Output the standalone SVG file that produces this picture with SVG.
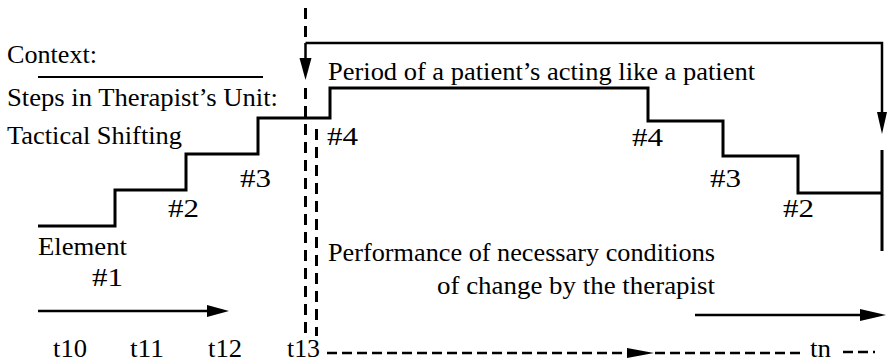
<svg xmlns="http://www.w3.org/2000/svg" width="887" height="361" viewBox="0 0 887 361">
<style>
text{font-size:25px;fill:#000}
.s{fill:none;stroke:#000;stroke-width:3;stroke-linejoin:miter;stroke-linecap:butt}
.t{fill:none;stroke:#000;stroke-width:2.5}
.d{fill:none;stroke:#000;stroke-width:3;stroke-dasharray:11 7}
.dh{fill:none;stroke:#000;stroke-width:2.5;stroke-dasharray:10 5}
.h{fill:#000}
</style>
<rect width="887" height="361" fill="#fff"/>
<g id="labels" font-family="Liberation Serif, DejaVu Serif, serif">
<text x="7" y="63" textLength="90" lengthAdjust="spacingAndGlyphs">Context:</text>
<line x1="38" y1="77" x2="263" y2="77" stroke="#000" stroke-width="2"/>
<text x="7" y="106" textLength="271" lengthAdjust="spacingAndGlyphs">Steps in Therapist’s Unit:</text>
<text x="7" y="144" textLength="175" lengthAdjust="spacingAndGlyphs">Tactical Shifting</text>
<text x="328" y="80" textLength="427" lengthAdjust="spacingAndGlyphs">Period of a patient’s acting like a patient</text>
<text x="38" y="255" textLength="89" lengthAdjust="spacingAndGlyphs">Element</text>
<text x="92" y="286" textLength="31" lengthAdjust="spacingAndGlyphs">#1</text>
<text x="168" y="217" textLength="31" lengthAdjust="spacingAndGlyphs">#2</text>
<text x="240" y="187" textLength="31" lengthAdjust="spacingAndGlyphs">#3</text>
<text x="327" y="145" textLength="31" lengthAdjust="spacingAndGlyphs">#4</text>
<text x="632" y="146" textLength="31" lengthAdjust="spacingAndGlyphs">#4</text>
<text x="710" y="187" textLength="31" lengthAdjust="spacingAndGlyphs">#3</text>
<text x="783" y="217" textLength="31" lengthAdjust="spacingAndGlyphs">#2</text>
<text x="328" y="261" textLength="387" lengthAdjust="spacingAndGlyphs">Performance of necessary conditions</text>
<text x="437" y="294" textLength="278" lengthAdjust="spacingAndGlyphs">of change by the therapist</text>
<text x="53" y="357" textLength="34" lengthAdjust="spacingAndGlyphs">t10</text>
<text x="130" y="357" textLength="34" lengthAdjust="spacingAndGlyphs">t11</text>
<text x="208" y="357" textLength="34" lengthAdjust="spacingAndGlyphs">t12</text>
<text x="287" y="357" textLength="33" lengthAdjust="spacingAndGlyphs">t13</text>
<text x="810" y="357" textLength="21" lengthAdjust="spacingAndGlyphs">tn</text>
</g>
<g id="steps">
<path class="s" d="M38 226 H115 V190 H186 V154 H258 V118 H330 V88 H648 V121 H723 V156 H798 V193 H882"/>
<line class="s" x1="882" y1="150" x2="882" y2="251"/>
</g>
<g id="connectors">
<line class="d" x1="305.5" y1="8" x2="305.5" y2="40"/>
<path class="t" d="M305.5 43 H882 V118"/>
<line class="t" x1="305.5" y1="43" x2="305.5" y2="62"/>
<polygon class="h" points="299.5,58 311.5,58 305.5,80"/>
<line class="d" x1="305.5" y1="88" x2="305.5" y2="336"/>
<line class="d" x1="316.5" y1="129" x2="316.5" y2="336"/>
<polygon class="h" points="877,112 887,112 882,134"/>
<line class="t" x1="38" y1="311" x2="212" y2="311"/>
<polygon class="h" points="207,305 229,311 207,317"/>
<line class="t" x1="695" y1="315" x2="865" y2="315"/>
<polygon class="h" points="860,309 886,315 860,321"/>
<line class="dh" x1="327" y1="353" x2="630" y2="353"/>
<polygon class="h" points="627,348 654,353 627,358"/>
<line class="dh" x1="655" y1="353" x2="803" y2="353"/>
<line class="dh" x1="843" y1="352" x2="875" y2="352"/>
</g>
</svg>
